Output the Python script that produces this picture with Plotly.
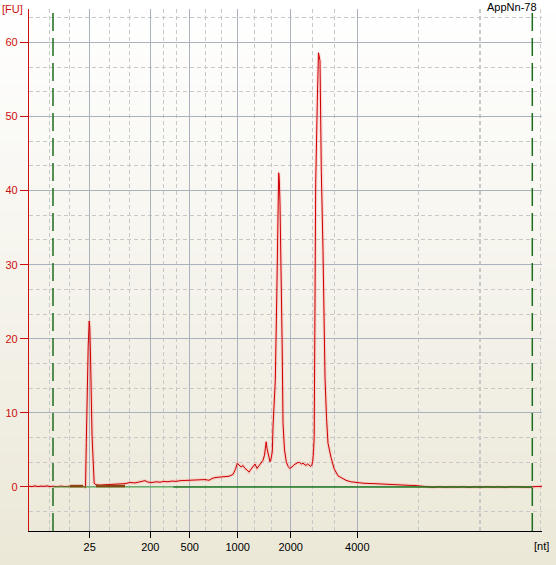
import plotly.graph_objects as go

# ---- data (time axis in seconds, signal in FU) ----
time_s = [19.0, 19.3, 19.6, 19.9, 20.2, 20.5, 20.8, 21.1, 21.4, 21.8, 22.2, 22.6, 23.0, 23.4, 23.8,
          24.2, 24.5, 24.65, 24.73, 24.82, 24.92, 25.02, 25.08, 25.15, 25.22, 25.3, 25.38, 25.45, 25.52,
          25.7, 26.1, 26.6, 27.1, 27.6, 28.1, 28.6, 29.1, 29.6, 30.1, 30.6, 30.9, 31.3, 31.7, 32.1, 32.5,
          32.9, 33.3, 33.7, 34.1, 34.6, 35.1, 35.6, 36.1, 36.6, 37.0, 37.4, 37.8, 38.2, 38.6, 39.0, 39.4,
          39.65, 39.83, 40.0, 40.2, 40.4, 40.6, 40.8, 41.0, 41.2, 41.4, 41.6, 41.8, 42.0, 42.17, 42.4,
          42.55, 42.63, 42.72, 42.8, 42.9, 43.0, 43.1, 43.2, 43.33, 43.4, 43.5, 43.63, 43.77, 43.85, 43.9,
          43.94, 43.97, 44.03, 44.1, 44.23, 44.32, 44.4, 44.55, 44.73, 44.9, 45.07, 45.3, 45.5, 45.73,
          45.9, 46.07, 46.23, 46.4, 46.55, 46.7, 46.85, 47.0, 47.1, 47.17, 47.27, 47.37, 47.45, 47.52,
          47.58, 47.67, 47.83, 47.95, 48.1, 48.23, 48.4, 48.5, 48.6, 48.75, 48.9, 49.2, 49.5, 49.9, 50.33,
          50.7, 51.17, 51.77, 52.5, 53.5, 54.5, 55.5, 56.5, 57.0, 57.6, 58.2, 58.8, 59.4, 60.0, 60.6,
          61.2, 61.8, 62.4, 63.0, 63.6, 64.2, 64.8, 65.4, 66.0, 66.6, 67.2, 67.8, 68.4, 69.0, 69.6, 70.3]
signal_fu = [0.1, 0.05, 0.15, 0.05, 0.12, 0.08, 0.15, 0.05, 0.1, 0.05, 0.12, 0.05, 0.1, 0.15, 0.12,
             0.15, 0.05, -0.1, 6.0, 13.0, 19.0, 22.4, 21.5, 17.7, 10.3, 7.0, 4.6, 2.0, 0.5,
             0.3, 0.25, 0.3, 0.35, 0.3, 0.4, 0.45, 0.6, 0.55, 0.7, 0.85, 0.65, 0.6, 0.7, 0.65, 0.75,
             0.7, 0.8, 0.75, 0.85, 0.9, 0.9, 1.0, 0.95, 1.0, 0.9, 1.2, 1.3, 1.35, 1.5, 1.45, 1.7,
             2.4, 3.2, 2.9, 2.7, 2.9, 2.5, 2.3, 2.0, 2.4, 2.7, 3.1, 2.5, 2.9, 3.2, 3.6,
             4.3, 5.6, 6.1, 5.2, 4.5, 3.6, 3.4, 3.8, 4.75, 8.1, 10.5, 14.4, 25.1, 31.9, 36.0,
             40.0, 42.4, 41.5, 38.2, 28.3, 18.9, 8.6, 5.0, 3.4, 2.8, 2.5, 2.7, 3.0, 3.2,
             3.3, 3.3, 3.1, 3.2, 3.0, 2.9, 3.1, 2.9, 2.8, 2.8, 2.9, 3.4, 4.8, 6.8, 20.7, 40.9,
             52.0, 58.6, 57.5, 42.6, 31.9, 24.0, 14.8, 9.4, 5.9, 4.0, 2.5, 1.5, 1.2, 0.9, 0.7,
             0.6, 0.5, 0.45, 0.36, 0.27, 0.25, 0.22, 0.2, 0.15, 0.02, -0.05, 0.03, -0.04, 0.02, -0.03,
             0.03, -0.05, 0.02, -0.04, 0.03, -0.03, 0.02, -0.05, 0.03, -0.02, 0.02, -0.04, 0.05, 0.08, 0.1]

ladder_nt = ["25", "200", "500", "1000", "2000", "4000"]
ladder_time = [25.07, 31.13, 35.07, 39.87, 45.17, 51.83]
minor_time = [21.07, 23.07, 27.03, 29.07, 32.47, 33.77, 36.63, 38.23, 41.53, 43.23,
              47.37, 49.53, 57.97, 64.1, 70.17]
fu_ticks = [0, 10, 20, 30, 40, 50, 60]
fu_minor = [-3.333, 3.333, 6.667, 13.333, 16.667, 23.333, 26.667, 33.333, 36.667,
            43.333, 46.667, 53.333, 56.667, 63.333]
marker_time = [21.4, 69.33]
baseline_light = [21.4, 33.43]
baseline_dark = [33.43, 69.33]
brown_segments = [[23.1, 24.4], [25.7, 28.6]]
sample_name = "AppNn-78"

X_RANGE = [19.0, 70.3]
Y_RANGE = [-5.94, 64.5]

W, H = 556, 565
ML, MR, MT, MB = 29, 14, 9, 34
PW, PH = W - ML - MR, H - MT - MB

fig = go.Figure()

# glow under trace
fig.add_trace(go.Scatter(x=time_s, y=signal_fu, mode="lines",
                         line=dict(color="rgba(255,140,140,0.3)", width=3.2),
                         hoverinfo="skip", showlegend=False))
fig.add_trace(go.Scatter(x=time_s, y=signal_fu, mode="lines",
                         line=dict(color="#CC0000", width=1.0), showlegend=False))

# baseline
fig.add_trace(go.Scatter(x=baseline_light, y=[0, 0], mode="lines",
                         line=dict(color="#3CA83C", width=1), showlegend=False))
fig.add_trace(go.Scatter(x=baseline_dark, y=[0, 0], mode="lines",
                         line=dict(color="#1F7A1F", width=1.6), showlegend=False))
for seg in brown_segments:
    fig.add_trace(go.Scatter(x=seg, y=[0.12, 0.12], mode="lines",
                             line=dict(color="#8B4513", width=2.5), showlegend=False))

shapes = []
# vertical gradient background
n = 40
top_c = (255, 255, 255)
bot_c = (235, 232, 216)
y0p = -MB / PH
y1p = 1 + MT / PH
for i in range(n):
    f = (i + 0.5) / n
    c = tuple(int(round(top_c[k] + (bot_c[k] - top_c[k]) * f)) for k in range(3))
    ya = y1p - (y1p - y0p) * i / n
    yb = y1p - (y1p - y0p) * (i + 1) / n
    shapes.append(dict(type="rect", xref="paper", yref="paper", x0=-ML / PW - 0.01,
                       x1=1 + MR / PW + 0.01, y0=yb - 0.001, y1=ya + 0.001,
                       fillcolor="rgb(%d,%d,%d)" % c, line=dict(width=0), layer="below"))

# thicker dashed gridline
shapes.append(dict(type="line", xref="x", yref="paper", x0=minor_time[13], x1=minor_time[13],
                   y0=0, y1=1, line=dict(color="#C8C8C8", width=2, dash="4px,3px"), layer="below"))

# green marker lines
for t in marker_time:
    shapes.append(dict(type="line", xref="x", yref="paper", x0=t, x1=t, y0=0, y1=1,
                       line=dict(color="#1E6E1E", width=1.5, dash="18px,7px"), layer="above"))

fig.update_layout(
    width=W, height=H,
    margin=dict(l=ML, r=MR, t=MT, b=MB, pad=0, autoexpand=False),
    paper_bgcolor="rgb(235,232,216)",
    plot_bgcolor="rgba(0,0,0,0)",
    shapes=shapes,
    font=dict(family="Liberation Sans, Arial, sans-serif", size=11),
    showlegend=False,
    xaxis=dict(range=X_RANGE, tickmode="array", tickvals=ladder_time, ticktext=ladder_nt,
               showgrid=True, gridcolor="#AAB2BE", gridwidth=1, zeroline=False,
               showline=True, linecolor="#000000", linewidth=1, automargin=False,
               ticks="outside", ticklen=6, tickcolor="#000000",
               tickfont=dict(color="#000000", size=11),
               minor=dict(tickmode="array", tickvals=minor_time, showgrid=True,
                          gridcolor="#C8C8C8", griddash="4px,3px", gridwidth=1, ticks=""),
               fixedrange=True),
    yaxis=dict(range=Y_RANGE, tickmode="array", tickvals=fu_ticks,
               showgrid=True, gridcolor="#AAB2BE", gridwidth=1, zeroline=False,
               showline=True, linecolor="#CC1010", linewidth=1.2, automargin=False,
               ticks="outside", ticklen=8, tickcolor="#CC1010",
               tickfont=dict(color="#CC1010", size=11),
               minor=dict(tickmode="array", tickvals=fu_minor, showgrid=True,
                          gridcolor="#C8C8C8", griddash="4px,3px", gridwidth=1, ticks=""),
               fixedrange=True),
    annotations=[
        dict(text="[FU]", xref="paper", yref="paper", x=-ML / PW, y=1, xanchor="left",
             yanchor="middle", showarrow=False, font=dict(color="#CC1010", size=11)),
        dict(text="[nt]", xref="paper", yref="paper", x=(532 - ML) / PW, y=-15 / PH,
             xanchor="left", yanchor="middle", showarrow=False,
             font=dict(color="#000000", size=11)),
        dict(text=sample_name, xref="paper", yref="paper", x=(539 - ML) / PW, y=1 + 2 / PH,
             xanchor="right", yanchor="middle", showarrow=False,
             font=dict(color="#000000", size=11)),
    ],
)

fig.write_html("out.html", config={"displayModeBar": False},
               post_script="document.body.style.margin='0';document.body.style.overflow='hidden';")
